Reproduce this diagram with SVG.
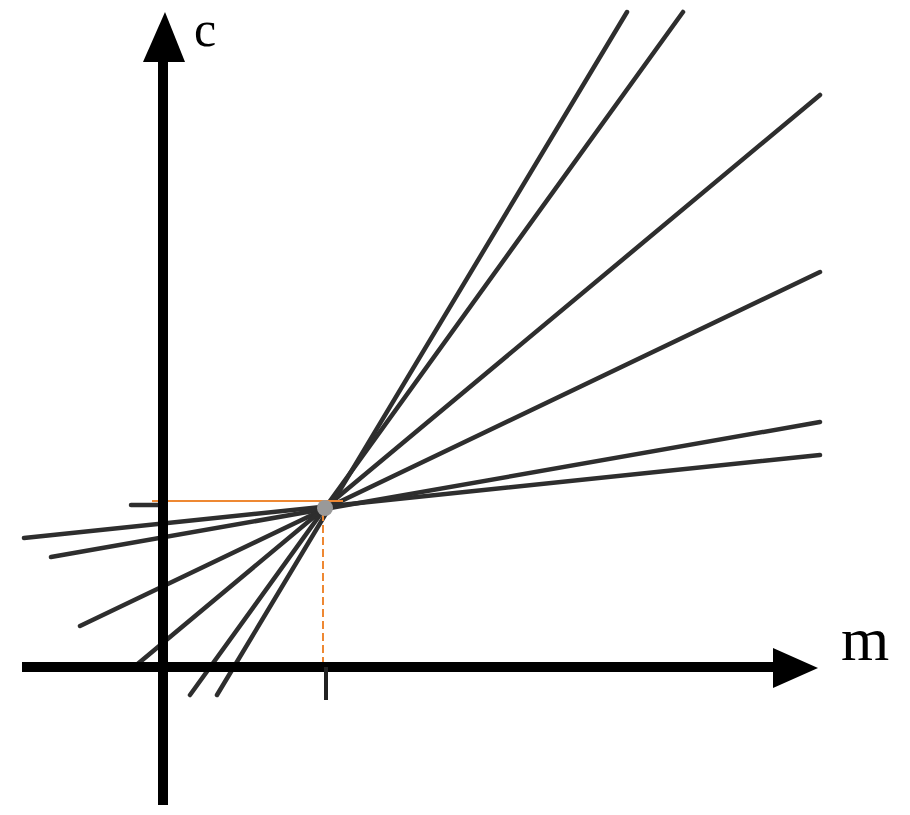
<svg xmlns="http://www.w3.org/2000/svg" width="910" height="815" viewBox="0 0 910 815">
<style>
.fan{stroke:#2e2e2e;stroke-width:4.5;stroke-linecap:round;fill:none}
.axis{stroke:#000;stroke-width:10;fill:none}
.guide{stroke:#ee8833;stroke-width:2;fill:none}
.lbl{font-family:"Liberation Serif",serif;fill:#000}
</style>
<rect width="910" height="815" fill="#fff"/>
<g id="fan-lines">
<line class="fan" x1="24" y1="538" x2="820" y2="455"/>
<line class="fan" x1="51" y1="557" x2="820" y2="422"/>
<line class="fan" x1="80" y1="626" x2="820" y2="272"/>
<line class="fan" x1="134" y1="667" x2="820" y2="95"/>
<line class="fan" x1="190" y1="695" x2="683" y2="12"/>
<line class="fan" x1="217" y1="695" x2="627" y2="12"/>
<line class="fan" x1="131" y1="505" x2="160" y2="505"/>
</g>
<g id="guides">
<line class="guide" x1="152" y1="501" x2="343" y2="501"/>
<line class="guide" x1="323" y1="501" x2="323" y2="667" stroke-dasharray="8 4"/>
</g>
<circle id="point" cx="325" cy="508" r="8" fill="#999"/>
<g id="c-axis">
<line class="axis" x1="163" y1="805" x2="163" y2="55"/>
<polygon points="165,12 185,62 143,62" fill="#000"/>
<text class="lbl" x="194" y="46" font-size="50">c</text>
</g>
<g id="m-axis">
<line class="axis" x1="22" y1="667" x2="780" y2="667"/>
<polygon points="818,668 773,648 773,688" fill="#000"/>
<line x1="326" y1="667" x2="326" y2="700" stroke="#222" stroke-width="4"/>
<text class="lbl" x="841" y="660" font-size="62">m</text>
</g>
</svg>
